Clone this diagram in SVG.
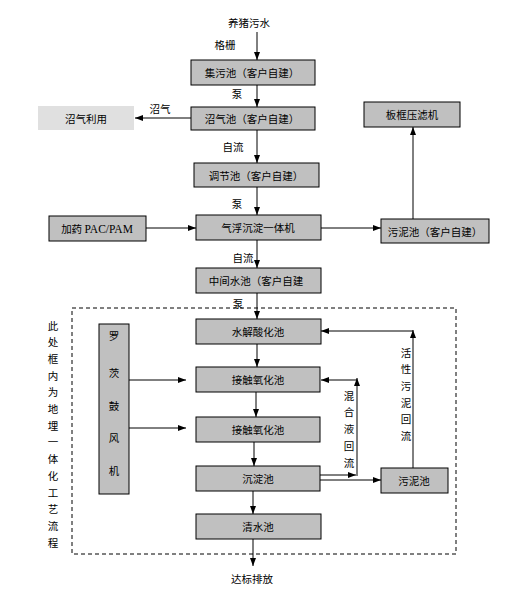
<svg xmlns="http://www.w3.org/2000/svg" width="515" height="596" viewBox="0 0 515 596">
<style>
.box{fill:#c0c0c0;stroke:#000;stroke-width:1}
.t{font-family:"Noto Sans CJK SC","Liberation Sans",sans-serif;font-size:10.5px;fill:#000;text-anchor:middle;dominant-baseline:central}
.lbl{font-family:"Noto Sans CJK SC","Liberation Sans",sans-serif;font-size:10.5px;fill:#000;text-anchor:middle;dominant-baseline:central}
.c{fill:none;stroke:#000;stroke-width:1;marker-end:url(#ah)}
.l{fill:none;stroke:#000;stroke-width:1}
</style>
<defs>
<marker id="ah" viewBox="0 0 8 6" refX="8" refY="3" markerWidth="8" markerHeight="6" orient="auto" markerUnits="userSpaceOnUse"><path d="M0,0 L8,3 L0,6 z" fill="#000"/></marker>
</defs>
<rect width="515" height="596" fill="#fff"/>
<rect x="72" y="308" width="384" height="246" fill="none" stroke="#000" stroke-width="1" stroke-dasharray="4,3"/>
<g id="connectors">
<path class="c" d="M257,32 V60"/>
<path class="c" d="M257,85 V107"/>
<path class="c" d="M191,118 H135"/>
<path class="c" d="M257,130 V163"/>
<path class="c" d="M257,187 V215"/>
<path class="c" d="M146,228 H196"/>
<path class="c" d="M321,228 H381"/>
<path class="c" d="M413,219 V127"/>
<path class="c" d="M257,240 V268"/>
<path class="c" d="M257,293 V319"/>
<path class="c" d="M257,344 V367"/>
<path class="c" d="M256,392 V417"/>
<path class="c" d="M254,442 V466"/>
<path class="c" d="M253,491 V514"/>
<path class="c" d="M253,539 V566"/>
<path class="c" d="M129,380 H186"/>
<path class="c" d="M129,428 H186"/>
<path class="c" d="M320,475 H356"/>
<path class="c" d="M357,476 V378"/>
<path class="c" d="M357,380 H321"/>
<path class="c" d="M320,480 H381"/>
<path class="c" d="M413,468 V330"/>
<path class="c" d="M413,331 H321"/>
<text class="lbl" x="225" y="44">格栅</text>
<text class="lbl" x="237" y="93">泵</text>
<text class="lbl" x="160" y="108">沼气</text>
<text class="lbl" x="233" y="146">自流</text>
<text class="lbl" x="237" y="203">泵</text>
<text class="lbl" x="243" y="257">自流</text>
<text class="lbl" x="238" y="303">泵</text>
<text class="lbl" x="349" y="395">混</text>
<text class="lbl" x="349" y="411">合</text>
<text class="lbl" x="349" y="428">液</text>
<text class="lbl" x="349" y="445">回</text>
<text class="lbl" x="349" y="462">流</text>
<text class="lbl" x="406" y="352">活</text>
<text class="lbl" x="406" y="368">性</text>
<text class="lbl" x="406" y="385">污</text>
<text class="lbl" x="406" y="402">泥</text>
<text class="lbl" x="406" y="418">回</text>
<text class="lbl" x="406" y="435">流</text>
</g>
<g id="source"><text class="t" x="249" y="22" font-size="11">养猪污水</text></g>
<g id="jiwuchi"><rect class="box" x="191" y="60" width="124" height="25"/><text class="t" x="252" y="72.5">集污池（客户自建）</text></g>
<g id="zhaoqichi"><rect class="box" x="191" y="107" width="124" height="23"/><text class="t" x="252" y="118.5">沼气池（客户自建）</text></g>
<g id="zhaoqiliyong"><rect x="38" y="106" width="96" height="24" fill="#e0e0e0"/><text class="t" x="86" y="118">沼气利用</text></g>
<g id="tiaojiechi"><rect class="box" x="194" y="163" width="125" height="24"/><text class="t" x="256" y="175">调节池（客户自建）</text></g>
<g id="jiayao"><rect class="box" x="49" y="216" width="97" height="25"/><text class="t" x="97" y="228.5">加药 <tspan font-family="'Liberation Serif',serif" font-size="11.5">PAC/PAM</tspan></text></g>
<g id="qifu"><rect class="box" x="196" y="215" width="125" height="25"/><text class="t" x="258" y="227.5">气浮沉淀一体机</text></g>
<g id="wunichi1"><rect class="box" x="381" y="219" width="108" height="24"/><text class="t" x="435" y="231">污泥池（客户自建）</text></g>
<g id="bankuang"><rect class="box" x="364" y="102" width="96" height="25"/><text class="t" x="412" y="114.5">板框压滤机</text></g>
<g id="zhongjian"><rect class="box" x="196" y="268" width="125" height="25"/><text class="t" x="256" y="280.5">中间水池（客户自建</text></g>
<g id="shuijie"><rect class="box" x="196" y="319" width="125" height="25"/><text class="t" x="258" y="331.5">水解酸化池</text></g>
<g id="jiechu1"><rect class="box" x="196" y="367" width="124" height="25"/><text class="t" x="258" y="379.5">接触氧化池</text></g>
<g id="jiechu2"><rect class="box" x="196" y="417" width="124" height="25"/><text class="t" x="258" y="429.5">接触氧化池</text></g>
<g id="chendian"><rect class="box" x="196" y="466" width="124" height="25"/><text class="t" x="258" y="478.5">沉淀池</text></g>
<g id="qingshui"><rect class="box" x="196" y="514" width="125" height="25"/><text class="t" x="258" y="526.5">清水池</text></g>
<g id="wunichi2"><rect class="box" x="381" y="468" width="67" height="25"/><text class="t" x="414" y="480.5">污泥池</text></g>
<g id="fengji"><rect class="box" x="99" y="324" width="30" height="170"/>
<text class="t" x="114" y="335">罗</text><text class="t" x="114" y="372">茨</text><text class="t" x="114" y="405">鼓</text><text class="t" x="114" y="437">风</text><text class="t" x="114" y="470">机</text></g>
<g id="note">
<text class="t" x="53" y="325">此</text><text class="t" x="53" y="341.7">处</text><text class="t" x="53" y="358.4">框</text><text class="t" x="53" y="375.1">内</text><text class="t" x="53" y="391.8">为</text><text class="t" x="53" y="408.5">地</text><text class="t" x="53" y="425.2">埋</text><text class="t" x="53" y="441.9">一</text><text class="t" x="53" y="458.6">体</text><text class="t" x="53" y="475.3">化</text><text class="t" x="53" y="492">工</text><text class="t" x="53" y="508.7">艺</text><text class="t" x="53" y="525.4">流</text><text class="t" x="53" y="542">程</text>
</g>
<g id="outlet"><text class="t" x="252" y="578" font-size="11">达标排放</text></g>
</svg>
